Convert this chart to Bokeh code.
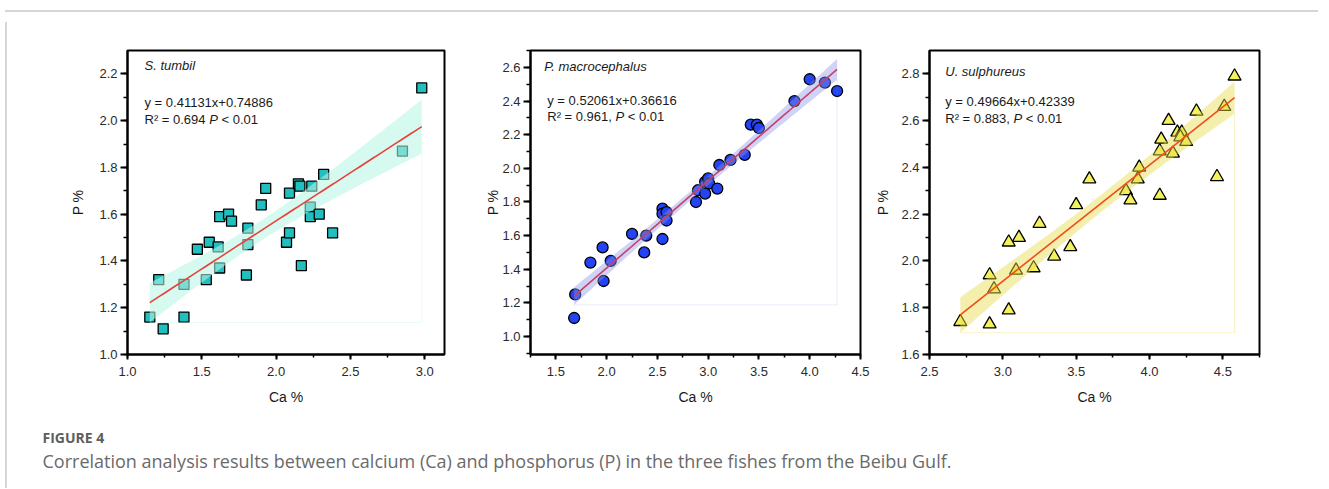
import numpy as np
from bokeh.plotting import figure
from bokeh.models import (Range1d, SingleIntervalTicker, PrintfTickFormatter, Label,
                          Div, Spacer)
from bokeh.layouts import row, column
from bokeh.embed import file_html
from bokeh.resources import INLINE
from bokeh.core.properties import value

# ---------------- data ----------------
species = ["S. tumbil", "P. macrocephalus", "U. sulphureus"]
slopes = [0.41131, 0.52061, 0.49664]
intercepts = [0.74886, 0.36616, 0.42339]
r2_values = ["0.694", "0.961", "0.883"]
r2_sep = [" ", ", ", ", "]
p_limit = "0.01"

ca1 = [1.15, 1.21, 1.24, 1.38, 1.38, 1.47, 1.53, 1.55, 1.61, 1.62, 1.62, 1.68, 1.70, 1.80,
       1.81, 1.81, 1.90, 1.93, 2.07, 2.09, 2.09, 2.15, 2.16, 2.17, 2.23, 2.23, 2.24, 2.29,
       2.32, 2.38, 2.85, 2.98]
p1 = [1.16, 1.32, 1.11, 1.30, 1.16, 1.45, 1.32, 1.48, 1.46, 1.59, 1.37, 1.60, 1.57, 1.34,
      1.47, 1.54, 1.64, 1.71, 1.48, 1.52, 1.69, 1.73, 1.72, 1.38, 1.63, 1.59, 1.72, 1.60,
      1.77, 1.52, 1.87, 2.14]

ca2 = [1.68, 1.69, 1.84, 1.96, 1.97, 2.04, 2.25, 2.37, 2.39, 2.55, 2.55, 2.55, 2.59, 2.59,
       2.88, 2.90, 2.97, 2.97, 3.00, 3.01, 3.09, 3.11, 3.22, 3.36, 3.42, 3.48, 3.50, 3.85,
       4.00, 4.15, 4.27]
p2 = [1.11, 1.25, 1.44, 1.53, 1.33, 1.45, 1.61, 1.50, 1.60, 1.58, 1.76, 1.73, 1.74, 1.69,
      1.80, 1.87, 1.92, 1.85, 1.94, 1.91, 1.88, 2.02, 2.05, 2.08, 2.26, 2.26, 2.24, 2.40,
      2.53, 2.51, 2.46]

ca3 = [2.71, 2.91, 2.91, 2.94, 3.04, 3.04, 3.11, 3.09, 3.21, 3.25, 3.35, 3.46, 3.50, 3.59,
       3.84, 3.87, 3.93, 3.92, 4.07, 4.07, 4.08, 4.13, 4.16, 4.19, 4.22, 4.21, 4.25, 4.32,
       4.46, 4.51, 4.58]
p3 = [1.74, 1.73, 1.94, 1.88, 1.79, 2.08, 2.10, 1.96, 1.97, 2.16, 2.02, 2.06, 2.24, 2.35,
      2.30, 2.26, 2.40, 2.35, 2.28, 2.47, 2.52, 2.60, 2.46, 2.55, 2.55, 2.53, 2.51, 2.64,
      2.36, 2.66, 2.79]

ca_sets = [ca1, ca2, ca3]
p_sets = [p1, p2, p3]

x_label = "Ca %"
y_label = "P %"
caption_head = "FIGURE 4"
caption_text = ("Correlation analysis results between calcium (Ca) and phosphorus (P) "
                "in the three fishes from the Beibu Gulf.")

# ---------------- layout / style ----------------
FRAME_W = [317, 335, 335]
FRAME_H = 304
FIG_W = [470, 390, 451]
BORDER_L = [115, 43, 52]
BORDER_T = 33
BORDER_B = 70
X_RANGES = [(1.0, 3.133), (1.25, 4.5005), (2.5, 4.75)]
Y_RANGES = [(1.0, 2.3), (0.893, 2.701), (1.6, 2.9)]
YLABEL_STANDOFF = [10, -2, 7]

MARKERS = ["square", "circle", "triangle"]
MSIZE = [10, 11, 13]
MFILL = ["#22bfbf", "#2443f2", "#f3f25c"]
BAND_COLOR = ["#b9f6e5", "#8c95ea", "#e6dc4a"]
BAND_ALPHA = [0.57, 0.42, 0.45]
EDGE_ALPHA = [0.35, 0.2, 0.3]
LINE_COLOR = ["#e8403c", "#c8406a", "#f24c1c"]

NAME_POS = [(17, 14.5), (14, 16), (16, 21)]
EQ_POS = [(17, 52, 69), (17, 50, 66), (16, 51, 68)]

T_CRIT = 2.04
FONT = "Liberation Sans"
ANN_SIZE = 13
TICK_SIZE = 13
CHAR_W = {'R': .722, '\u00b2': .333, ' ': .278, '=': .584, '.': .278, ',': .278,
          'P': .667, '<': .584}
for d in "0123456789":
    CHAR_W[d] = .556


def text_w(s, size):
    return sum(CHAR_W.get(c, .556) for c in s) * size


def make_panel(i):
    xr, yr = X_RANGES[i], Y_RANGES[i]
    p = figure(width=FIG_W[i], height=BORDER_T + FRAME_H + BORDER_B,
               x_range=Range1d(*xr), y_range=Range1d(*yr),
               output_backend="svg", toolbar_location=None,
               min_border_left=BORDER_L[i], min_border_right=FIG_W[i] - BORDER_L[i] - FRAME_W[i],
               min_border_top=BORDER_T, min_border_bottom=BORDER_B,
               background_fill_color="white", border_fill_color="white")
    p.grid.visible = False
    p.outline_line_color = "black"
    p.outline_line_width = 2
    p.outline_line_alpha = 1

    p.xaxis.ticker = SingleIntervalTicker(interval=0.5, num_minor_ticks=2)
    p.yaxis.ticker = SingleIntervalTicker(interval=0.2, num_minor_ticks=2)
    for ax in (p.xaxis[0], p.yaxis[0]):
        ax.formatter = PrintfTickFormatter(format="%.1f")
        ax.axis_line_width = 2
        ax.axis_line_color = "black"
        ax.major_tick_line_width = 2
        ax.minor_tick_line_width = 1.5
        ax.major_tick_line_color = "black"
        ax.minor_tick_line_color = "black"
        ax.major_tick_in = 0
        ax.minor_tick_in = 0
        ax.major_label_text_font = FONT
        ax.major_label_text_font_size = f"{TICK_SIZE}px"
        ax.major_label_text_color = "#2a2a2a"
        ax.axis_label_text_font = FONT
        ax.axis_label_text_font_size = "14px"
        ax.axis_label_text_font_style = "normal"
        ax.axis_label_text_color = "#1a1a1a"
    p.xaxis.major_tick_out = 5
    p.xaxis.minor_tick_out = 3
    p.xaxis.major_label_standoff = 7
    p.xaxis.axis_label = x_label
    p.xaxis.axis_label_standoff = 10
    p.yaxis.major_tick_out = 7
    p.yaxis.minor_tick_out = 4
    p.yaxis.major_label_standoff = 3
    p.yaxis.axis_label = y_label
    p.yaxis.axis_label_standoff = YLABEL_STANDOFF[i]

    ca = np.array(ca_sets[i])
    pp = np.array(p_sets[i])
    a, b = slopes[i], intercepts[i]

    # points (drawn below the translucent band, as in the original)
    p.scatter(ca, pp, marker=MARKERS[i], size=MSIZE[i], fill_color=MFILL[i],
              line_color="black", line_width=1.3)

    # 95% confidence band of the fit
    n = len(ca)
    resid = pp - (a * ca + b)
    s = np.sqrt(np.sum(resid ** 2) / (n - 2))
    xm = ca.mean()
    sxx = np.sum((ca - xm) ** 2)
    xg = np.linspace(ca.min(), ca.max(), 80)
    yhat = a * xg + b
    hw = T_CRIT * s * np.sqrt(1.0 / n + (xg - xm) ** 2 / sxx)
    lo, hi = yhat - hw, yhat + hw
    p.varea(x=xg, y1=lo, y2=hi, fill_color=BAND_COLOR[i], fill_alpha=BAND_ALPHA[i])
    base = lo.min()
    p.line([xg[0], xg[-1]], [base, base], line_color=BAND_COLOR[i],
           line_alpha=EDGE_ALPHA[i], line_width=1)
    p.line([xg[-1], xg[-1]], [lo[-1], base], line_color=BAND_COLOR[i],
           line_alpha=EDGE_ALPHA[i], line_width=1)

    # fitted line
    p.line(xg, yhat, line_color=LINE_COLOR[i], line_width=1.6)

    # annotations
    def to_x(px):
        return xr[0] + px / FRAME_W[i] * (xr[1] - xr[0])

    def to_y(py):
        return yr[1] - py / FRAME_H * (yr[1] - yr[0])

    common = dict(text_font=FONT, text_font_size=f"{ANN_SIZE}px", text_color="#1a1a1a",
                  text_baseline="middle", text_align="left")
    nx, ny = NAME_POS[i]
    p.add_layout(Label(x=to_x(nx), y=to_y(ny), text=species[i], text_font_style="italic",
                       **common))
    ex, ey1, ey2 = EQ_POS[i]
    eq = f"y = {a:.5f}x+{b:.5f}"
    p.add_layout(Label(x=to_x(ex), y=to_y(ey1), text=eq, **common))
    part1 = f"R\u00b2 = {r2_values[i]}{r2_sep[i]}"
    w1 = text_w(part1, ANN_SIZE)
    wp = text_w("P ", ANN_SIZE)
    p.add_layout(Label(x=to_x(ex), y=to_y(ey2), text=part1.rstrip(), **common))
    p.add_layout(Label(x=to_x(ex), y=to_y(ey2), x_offset=w1, text="P",
                       text_font_style="italic", **common))
    p.add_layout(Label(x=to_x(ex), y=to_y(ey2), x_offset=w1 + wp, text=f"< {p_limit}",
                       **common))
    return p


panels = [make_panel(i) for i in range(3)]

ROW_H = BORDER_T + FRAME_H + BORDER_B
CONTENT_W = sum(FIG_W)
CAP_H = 473 - 7 - ROW_H

cap = figure(width=CONTENT_W, height=CAP_H, x_range=Range1d(0, CONTENT_W),
             y_range=Range1d(CAP_H, 0), min_border=0, output_backend="svg",
             toolbar_location=None, x_axis_location=None, y_axis_location=None,
             outline_line_color=None, background_fill_color="white",
             border_fill_color="white")
cap.grid.visible = False
cap.text(x=[30], y=[13], text=[caption_head], text_font=value("Open Sans"),
         text_font_style="bold", text_font_size="14px", text_color="#5e5e5e",
         text_baseline="middle", text_align="left")
cap.text(x=[30], y=[36], text=[caption_text], text_font=value("Open Sans"),
         text_font_size="18px", text_color="#6a6a6a",
         text_baseline="middle", text_align="left")

content = column(row(*panels), cap)
left_line = Div(width=2, height=ROW_H + CAP_H, styles={"background-color": "#d6d6d6"})
top_line = Div(width=CONTENT_W + 2, height=2, styles={"background-color": "#d6d6d6"})
layout = column(Spacer(width=CONTENT_W + 2, height=5), top_line, row(left_line, content))

open("out.html", "w").write(file_html(layout, INLINE))
